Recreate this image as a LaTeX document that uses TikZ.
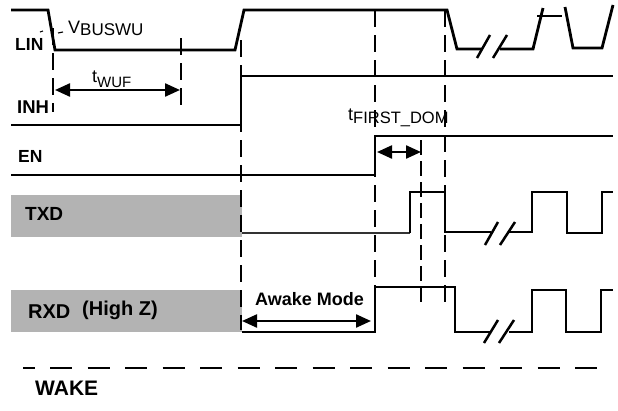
\documentclass[tikz,border=0pt]{standalone}
\usepackage{fontspec}
\setmainfont{Liberation Sans}
\usetikzlibrary{arrows.meta}
\definecolor{boxgray}{RGB}{179,179,179}
\tikzset{
 sig/.style={line width=2.8pt, line join=miter, line cap=butt},
 vdash/.style={line width=1.9pt, dash pattern=on 17pt off 8pt},
 vdot/.style={line width=1.9pt, dash pattern=on 15pt off 6pt},
 brk/.style={line width=2.5pt},
 dimarrow/.style={line width=2.3pt, {Triangle[length=15pt,width=13pt]}-{Triangle[length=15pt,width=13pt]}},
 lbl/.style={anchor=base west, inner sep=0pt, font=\fontsize{17.5}{17.5}\selectfont\bfseries},
 txt/.style={anchor=base west, inner sep=0pt, font=\fontsize{18}{18}\selectfont},
 gbox/.style={fill=boxgray, draw=none},
 tick/.style={line width=1.1pt},
}
\newcommand{\subtx}[3]{\raisebox{-#1}{\fontsize{#2}{#2}\selectfont #3}}
\newcommand{\fsz}[1]{\fontsize{#1}{#1}\selectfont}
\begin{document}
\begin{tikzpicture}[x=1pt,y=-1pt]
\useasboundingbox (0,0) rectangle (618,410);
% grey boxes
\fill[gbox] (11,195) rectangle (242,237);
\fill[gbox] (11,290) rectangle (242,332);
% vertical dashed lines
\draw[vdash] (53,28) -- (53,112);
\draw[vdash] (181,38) -- (181,108);
\draw[vdash] (241,40) -- (241,330);
\draw[vdash] (375,10) -- (375,287);
\draw[vdot] (421,140) -- (421,307);
\draw[vdash] (445,10) -- (445,307);
% LIN
\draw[sig] (11,10) -- (48,10) -- (55,50) -- (235,50) -- (244,10) -- (447,10) -- (457,49) -- (482,49);
\draw[sig] (500,49) -- (533,49) -- (543,8);
\draw[sig] (537,16) -- (562,16);
\draw[sig] (565,7) -- (573,48) -- (602,48) -- (613,5);
\draw[brk] (477,58) -- (490,35);
\draw[brk] (493,58) -- (507,35);
% INH
\draw[sig] (11,125) -- (241,125) -- (241,76) -- (613,76);
% EN
\draw[sig] (11,175) -- (375,175) -- (375,136) -- (613,136);
% TXD
\draw[line width=2.2pt, black!80] (242,233) -- (410,233);
\draw[sig] (410,233) -- (410,192) -- (445,192) -- (445,232) -- (491,232);
\draw[sig] (508,232) -- (532,232) -- (532,192) -- (567,192) -- (567,233) -- (602,233) -- (602,192) -- (613,192);
\draw[brk] (485,245) -- (498,222);
\draw[brk] (500,245) -- (515,222);
% RXD
\draw[sig] (242,332) -- (375,332) -- (375,287) -- (455,287) -- (455,332) -- (490,332);
\draw[sig] (509,332) -- (532,332) -- (532,290) -- (566,290) -- (566,332) -- (601,332) -- (601,290) -- (613,290);
\draw[brk] (484,343) -- (498,320);
\draw[brk] (499,343) -- (514,320);
% WAKE dashed
\draw[line width=2.8pt, dash pattern=on 22pt off 15.5pt, dash phase=10.5pt] (23,368) -- (598,368);
% dimension arrows
\coordinate (wufL) at (55,90);
\coordinate (wufR) at (180,90);
\coordinate (fdL) at (377,152);
\coordinate (fdR) at (421,152);
\coordinate (awL) at (242,321);
\coordinate (awR) at (371,321);
\draw[dimarrow] (wufL) -- (wufR);
\draw[dimarrow] (fdL) -- (fdR);
\draw[dimarrow] (awL) -- (awR);
% small marks near LIN
\draw[tick] (40,32) -- (43,31);
\draw[tick] (58,33) -- (63,32);
% labels
\node[lbl] (linlbl) at (15,50) {LIN};
\node[lbl, font=\fsz{18.5}\bfseries] (inhlbl) at (17,113) {INH};
\node[lbl] (enlbl) at (18,162) {EN};
\node[lbl, font=\fsz{19}\bfseries] (txdlbl) at (25,220) {TXD};
\node[lbl, font=\fsz{20}\bfseries] (rxdlbl) at (28,318) {RXD};
\node[lbl, font=\fsz{20}\bfseries] (hizlbl) at (82,315) {(High Z)};
\node[lbl, font=\fsz{21}\bfseries] (wakelbl) at (35,395) {WAKE};
\node[lbl, font=\fsz{18}\bfseries] (awlbl) at (255,305) {Awake Mode};
\node[txt] (vbus) at (68,33) {V\subtx{2pt}{17}{BUSWU}};
\node[txt] (twuf) at (92,82) {t\subtx{5pt}{15}{WUF}};
\node[txt] (tfd) at (348,120) {t\subtx{3pt}{16.5}{FIRST\_DOM}};
\end{tikzpicture}
\end{document}
